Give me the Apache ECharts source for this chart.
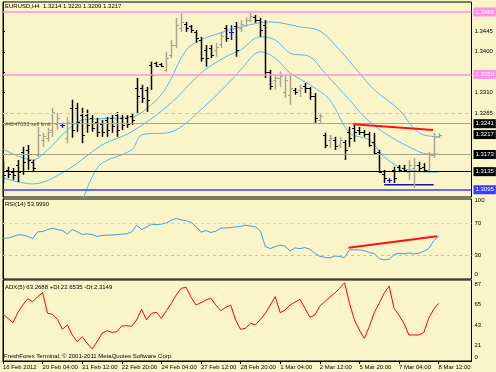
<!DOCTYPE html>
<html><head><meta charset="utf-8">
<script src="https://cdn.jsdelivr.net/npm/echarts@6/dist/echarts.min.js"></script>
<style>html,body{margin:0;padding:0;background:#faf5c8}#c{width:496px;height:372px}</style>
</head><body><div id="c"></div>
<script>
// ---------- data ----------
const dateLabels = ["16 Feb 2012","20 Feb 04:00","21 Feb 12:00","22 Feb 20:00","24 Feb 04:00","27 Feb 12:00","28 Feb 20:00","1 Mar 04:00","2 Mar 12:00","5 Mar 20:00","7 Mar 04:00","8 Mar 12:00"];
const opens = [1.3148,1.3139,1.3134,1.3150,1.3179,1.3183,1.3157,1.3172,1.3205,1.3210,1.3227,1.3240,1.3238,1.3210,1.3276,1.3276,1.3260,1.3260,1.3254,1.3245,1.3240,1.3249,1.3254,1.3260,1.3254,1.3254,1.3258,1.3320,1.3320,1.3316,1.3371,1.3375,1.3373,1.3360,1.3393,1.3415,1.3453,1.3461,1.3457,1.3444,1.3426,1.3404,1.3408,1.3404,1.3417,1.3453,1.3444,1.3457,1.3453,1.3459,1.3470,1.3476,1.3470,1.3459,1.3356,1.3338,1.3342,1.3311,1.3305,1.3316,1.3316,1.3324,1.3320,1.3302,1.3249,1.3216,1.3205,1.3205,1.3194,1.3201,1.3223,1.3232,1.3227,1.3223,1.3218,1.3201,1.3179,1.3130,1.3117,1.3139,1.3146,1.3143,1.3134,1.3143,1.3150,1.3146,1.3139,1.3172,1.3214];
const highs = [1.3157,1.3146,1.3143,1.3161,1.3190,1.3194,1.3161,1.3234,1.3221,1.3232,1.3276,1.3265,1.3243,1.3256,1.3294,1.3287,1.3276,1.3272,1.3260,1.3254,1.3249,1.3256,1.3260,1.3267,1.3260,1.3260,1.3265,1.3342,1.3327,1.3322,1.3378,1.3378,1.3375,1.3400,1.3426,1.3475,1.3486,1.3466,1.3459,1.3448,1.3433,1.3415,1.3415,1.3420,1.3444,1.3459,1.3459,1.3466,1.3470,1.3476,1.3486,1.3481,1.3475,1.3470,1.3360,1.3349,1.3356,1.3349,1.3349,1.3320,1.3327,1.3331,1.3322,1.3309,1.3265,1.3221,1.3216,1.3212,1.3212,1.3205,1.3234,1.3243,1.3234,1.3227,1.3223,1.3221,1.3183,1.3139,1.3121,1.3146,1.3150,1.3150,1.3161,1.3165,1.3157,1.3154,1.3179,1.3221,1.3220];
const lows = [1.3110,1.3121,1.3117,1.3112,1.3128,1.3139,1.3134,1.3168,1.3190,1.3201,1.3212,1.3227,1.3232,1.3198,1.3210,1.3223,1.3198,1.3221,1.3223,1.3212,1.3212,1.3212,1.3221,1.3212,1.3227,1.3232,1.3238,1.3265,1.3287,1.3267,1.3316,1.3367,1.3367,1.3356,1.3386,1.3408,1.3444,1.3444,1.3442,1.3420,1.3378,1.3367,1.3386,1.3389,1.3408,1.3422,1.3426,1.3389,1.3444,1.3455,1.3466,1.3464,1.3433,1.3342,1.3316,1.3316,1.3322,1.3298,1.3283,1.3305,1.3300,1.3309,1.3294,1.3243,1.3243,1.3187,1.3187,1.3183,1.3187,1.3161,1.3190,1.3201,1.3216,1.3212,1.3190,1.3172,1.3132,1.3110,1.3110,1.3110,1.3134,1.3134,1.3117,1.3099,1.3134,1.3134,1.3134,1.3165,1.3209];
const closes = [1.3128,1.3130,1.3128,1.3134,1.3157,1.3161,1.3143,1.3216,1.3214,1.3223,1.3267,1.3254,1.3238,1.3245,1.3227,1.3245,1.3216,1.3238,1.3232,1.3223,1.3223,1.3227,1.3236,1.3227,1.3238,1.3240,1.3249,1.3302,1.3298,1.3294,1.3349,1.3369,1.3369,1.3386,1.3415,1.3459,1.3466,1.3453,1.3448,1.3431,1.3386,1.3386,1.3393,1.3411,1.3435,1.3431,1.3444,1.3404,1.3461,1.3470,1.3479,1.3470,1.3448,1.3356,1.3324,1.3342,1.3347,1.3338,1.3320,1.3311,1.3320,1.3320,1.3302,1.3254,1.3258,1.3194,1.3210,1.3192,1.3205,1.3183,1.3210,1.3223,1.3223,1.3218,1.3194,1.3176,1.3134,1.3121,1.3117,1.3121,1.3139,1.3139,1.3150,1.3150,1.3143,1.3139,1.3172,1.3212,1.3217];
const upperBand = [[0,1.3185],[6,1.3161],[9,1.3183],[13,1.3227],[16,1.3249],[20,1.3252],[26,1.3256],[30,1.3283],[33,1.3321],[37,1.3404],[40,1.3426],[44,1.3442],[48,1.3455],[54,1.3466],[60,1.3455],[64,1.3446],[68,1.3404],[72,1.3353],[75,1.3316],[80,1.3272],[84,1.3221],[88,1.3212]];
const middleBand = [[0,1.3121],[6,1.3108],[13,1.3139],[20,1.3194],[26,1.3223],[34,1.3287],[40,1.3353],[45,1.3389],[48,1.3404],[52,1.3433],[55,1.3426],[58,1.3397],[62,1.3389],[65,1.3353],[70,1.3294],[73,1.3256],[77,1.3221],[82,1.3190],[86,1.3174],[88,1.3174]];
const lowerBand = [[14,1.3040],[16,1.3072],[18,1.3123],[20,1.3154],[26,1.3183],[28,1.3216],[34,1.3223],[40,1.3272],[47,1.3347],[48,1.3360],[52,1.3400],[55,1.3386],[58,1.3353],[62,1.3327],[66,1.3294],[70,1.3221],[74,1.3205],[77,1.3168],[80,1.3145],[82,1.3139],[86,1.3134],[88,1.3134]];
const rsiValues = [51.1,51.5,53.2,55.7,55.3,53.6,50.7,59.4,59.8,62.3,64.0,62.3,61.1,56.8,62.3,59.4,56.0,56.8,56.0,53.5,54.8,55.2,55.2,56.0,56.4,56.8,59.4,67.8,62.3,65.3,69.1,68.6,69.1,70.8,74.2,76.3,74.6,73.7,71.6,66.1,58.9,61.1,58.5,60.2,64.0,64.4,64.8,65.7,66.1,67.8,66.9,65.7,60.6,40.7,38.1,40.7,42.4,41.1,35.2,39.0,38.1,39.4,37.3,32.2,28.4,27.1,26.3,28.8,28.0,26.7,36.5,36.5,36.5,35.6,33.1,31.8,25.4,23.7,24.6,30.5,32.2,31.4,32.6,31.4,32.2,34.8,38.1,47.8,54.0];
const adxValues = [51.6,46.9,42.1,53.1,61.5,68.5,65.2,70.7,75.1,52.4,51.3,45.8,34.8,39.6,28.6,21.2,26.7,19.4,13.2,21.2,30.4,33.3,31.5,32.2,38.5,38.8,38.1,45.1,56.8,45.1,52.4,53.5,46.9,55.3,63.4,72.5,79.9,81.0,70.0,61.5,64.1,67.0,68.9,61.5,55.3,59.0,61.5,45.1,34.8,35.9,41.4,39.6,45.8,52.4,61.5,70.7,53.1,56.0,61.5,64.8,67.8,57.9,48.0,50.5,60.4,65.2,70.0,74.4,79.9,86.0,63.4,45.1,34.1,24.9,37.7,53.1,63.4,74.4,82.4,57.9,50.5,41.4,28.6,28.6,28.6,31.1,46.9,56.8,63.27];
const priceTrend = [[70.8,1.3240],[86.9,1.3227]];
const supportLine = [[77,1.3106],[87,1.3106]];
const rsiTrend = [[69.8,39.3],[87.7,53.7]];
const pinkLevels = [1.3488,1.3350];
const grayLevels = [1.3241,1.3173];
const blackLevel = 1.3135;
const blueLevel = 1.3095;
const lastPrice = 1.3217;
const pendingLevel = 1.3265;
const priceTicks = [1.3445,1.3400,1.3355,1.3310,1.3265];
const rsiTicks = [100,70,30];
const rsiLevels = [70,30];
const adxTicks = [21,43,65,87];

// ---------- styles ----------
const FONT = 'Liberation Sans';
const PINK = '#ff8ee6', GRAYL = '#a8a48c', BLUE = '#3c3cff';
const BAR_UP = '#a8a590', BAR_DN = '#000000', BAR_DOJI = '#1010ff';
const XMAX = 94.65;
const ohlc = opens.map((o, i) => [i, o, highs[i], lows[i], closes[i]]);
const rsiData = rsiValues.map((v, i) => [i, v]);
const adxData = adxValues.map((v, i) => [i, v]);

function renderBar(params, api) {
  const i = api.value(0), o = api.value(1), h = api.value(2), l = api.value(3), c = api.value(4);
  const pH = api.coord([i, h]), pL = api.coord([i, l]), pO = api.coord([i, o]), pC = api.coord([i, c]);
  const x = Math.round(pH[0]) + 0.5;
  const col = c > o ? BAR_UP : (c < o ? BAR_DN : BAR_DOJI);
  const yo = Math.round(pO[1]) + 0.5, yc = Math.round(pC[1]) + 0.5;
  return { type: 'group', children: [
    { type: 'line', shape: { x1: x, y1: pH[1], x2: x, y2: pL[1] }, style: { stroke: col, lineWidth: 1.5 } },
    { type: 'line', shape: { x1: x - 2.5, y1: yo, x2: x, y2: yo }, style: { stroke: col, lineWidth: 1 } },
    { type: 'line', shape: { x1: x, y1: yc, x2: x + 2.5, y2: yc }, style: { stroke: col, lineWidth: 1 } }
  ]};
}
const boxLabel = (bg) => ({ show: true, position: 'end', distance: 2, formatter: p => Number(p.value).toFixed(4),
  backgroundColor: bg, color: '#fff', fontSize: 6, fontFamily: FONT, padding: [1.5, 2, 1.5, 2] });
const noLine = { color: 'rgba(0,0,0,0)', width: 1 };
const txt = { color: '#000', fontSize: 6, fontFamily: FONT };

const chart = echarts.init(document.getElementById('c'), null, { renderer: 'canvas' });
const gridBase = { left: 3, width: 468.5, show: true, borderColor: '#000', borderWidth: 1, backgroundColor: 'transparent' };
const option = {
  animation: false,
  backgroundColor: '#faf5c8',
  grid: [
    Object.assign({ top: 2, height: 195 }, gridBase),
    Object.assign({ top: 199, height: 80 }, gridBase),
    Object.assign({ top: 280, height: 81 }, gridBase)
  ],
  xAxis: [
    { type: 'value', gridIndex: 0, min: 0, max: XMAX, show: false },
    { type: 'value', gridIndex: 1, min: 0, max: XMAX, show: false },
    { type: 'value', gridIndex: 2, min: 0, max: XMAX, interval: 8, splitLine: { show: false },
      axisLine: { show: true, lineStyle: { color: '#000' } },
      axisTick: { show: true, length: 3, lineStyle: { color: '#000' } },
      axisLabel: Object.assign({ align: 'left', margin: 3, showMaxLabel: false,
        formatter: v => (v % 8 === 0 && dateLabels[v / 8]) ? dateLabels[v / 8] : '' }, txt) }
  ],
  yAxis: [
    { type: 'value', gridIndex: 0, position: 'right', min: 1.3079, max: 1.3510, splitLine: { show: false },
      axisLine: { show: true, lineStyle: { color: '#000' } },
      axisTick: { show: true, length: 2, customValues: priceTicks, lineStyle: { color: '#000' } },
      axisLabel: Object.assign({ margin: 3, customValues: priceTicks, formatter: v => v.toFixed(4) }, txt) },
    { type: 'value', gridIndex: 1, position: 'right', min: -0.5, max: 101.1, splitLine: { show: false },
      axisLine: { show: true, lineStyle: { color: '#000' } },
      axisTick: { show: false },
      axisLabel: Object.assign({ margin: 3, customValues: rsiTicks }, txt) },
    { type: 'value', gridIndex: 2, position: 'right', min: 0, max: 89, splitLine: { show: false },
      axisLine: { show: true, lineStyle: { color: '#000' } },
      axisTick: { show: false },
      axisLabel: Object.assign({ margin: 3, customValues: adxTicks, verticalAlign: 'top' }, txt) }
  ],
  graphic: [
    { type: 'text', left: 5, top: 3, style: { text: 'EURUSD,H4  1.3214 1.3220 1.3209 1.3217', fill: '#000', font: '6px ' + FONT } },
    { type: 'text', left: 5, top: 201, style: { text: 'RSI(14) 53.9990', fill: '#000', font: '6px ' + FONT } },
    { type: 'text', left: 5, top: 284, style: { text: 'ADX(5) 63.2688 +DI:22.6535 -DI:2.3149', fill: '#000', font: '6px ' + FONT } },
    { type: 'text', left: 4, top: 353, style: { text: 'FreshForex Terminal, \u00a9 2001-2011 MetaQuotes Software Corp.', fill: '#000', font: '6px ' + FONT } }
  ],
  series: [
    { type: 'line', xAxisIndex: 0, yAxisIndex: 0, data: [], silent: true, z: 1,
      markLine: { symbol: ['none', 'none'], silent: true, animation: false, precision: 4,
        data: [
          { yAxis: pinkLevels[0], lineStyle: { color: PINK, width: 1.5, type: 'solid' }, label: boxLabel(PINK) },
          { yAxis: pinkLevels[1], lineStyle: { color: PINK, width: 1.5, type: 'solid' }, label: boxLabel(PINK) },
          { yAxis: pendingLevel, lineStyle: { color: '#cfcbb4', width: 1, type: [4, 3] }, label: { show: false } },
          { yAxis: grayLevels[0], lineStyle: { color: GRAYL, width: 1.2, type: 'solid' }, label: boxLabel('#000') },
          { yAxis: grayLevels[0], lineStyle: noLine, label: { show: true, position: 'insideStartTop', distance: 0, offset: [2, 4],
              formatter: '#4647033 sell limit', color: '#4c4c3c', fontSize: 5.5, fontFamily: FONT } },
          { yAxis: lastPrice, lineStyle: noLine, label: boxLabel('#000') },
          { yAxis: grayLevels[1], lineStyle: { color: GRAYL, width: 1.2, type: 'solid' }, label: boxLabel('#000') },
          { yAxis: blackLevel, lineStyle: { color: '#000', width: 1.2, type: 'solid' }, label: boxLabel('#000') },
          { yAxis: blueLevel, lineStyle: { color: BLUE, width: 1.5, type: 'solid' }, label: boxLabel(BLUE) }
        ] } },
    { type: 'line', xAxisIndex: 0, yAxisIndex: 0, data: upperBand, smooth: 0.35, symbol: 'none', z: 2, lineStyle: { color: '#4fbdee', width: 1 } },
    { type: 'line', xAxisIndex: 0, yAxisIndex: 0, data: middleBand, smooth: 0.35, symbol: 'none', z: 2, lineStyle: { color: '#4fbdee', width: 1 } },
    { type: 'line', xAxisIndex: 0, yAxisIndex: 0, data: lowerBand, smooth: 0.35, symbol: 'none', z: 2, lineStyle: { color: '#4fbdee', width: 1 } },
    { type: 'line', xAxisIndex: 0, yAxisIndex: 0, data: supportLine, symbol: 'none', z: 3, lineStyle: { color: '#14149a', width: 1.6 } },
    { type: 'custom', xAxisIndex: 0, yAxisIndex: 0, data: ohlc, renderItem: renderBar, clip: true, z: 4 },
    { type: 'line', xAxisIndex: 0, yAxisIndex: 0, data: priceTrend, symbol: 'none', z: 5, lineStyle: { color: '#ff1010', width: 2 } },
    { type: 'line', xAxisIndex: 1, yAxisIndex: 1, data: rsiData, symbol: 'none', z: 3, lineStyle: { color: '#3a9ee8', width: 1 },
      markLine: { symbol: ['none', 'none'], silent: true, animation: false,
        data: [
          { yAxis: rsiLevels[0], lineStyle: { color: '#d6d2bc', width: 1, type: [3, 3] }, label: { show: false } },
          { yAxis: rsiLevels[1], lineStyle: { color: '#c4c0aa', width: 1, type: [3, 3] }, label: { show: false } },
          { yAxis: 0, lineStyle: noLine, label: Object.assign({ show: true, position: 'end', distance: 3, offset: [0, -4], formatter: '0' }, txt) }
        ] } },
    { type: 'line', xAxisIndex: 1, yAxisIndex: 1, data: rsiTrend, symbol: 'none', z: 4, lineStyle: { color: '#ff1010', width: 2 } },
    { type: 'line', xAxisIndex: 2, yAxisIndex: 2, data: adxData, symbol: 'none', z: 3, lineStyle: { color: '#ff0000', width: 1 },
      markLine: { symbol: ['none', 'none'], silent: true, animation: false,
        data: [
          { yAxis: 0, lineStyle: noLine, label: Object.assign({ show: true, position: 'end', distance: 3, offset: [0, -4], formatter: '0' }, txt) }
        ] } }
  ]
};
chart.setOption(option);
</script></body></html>
